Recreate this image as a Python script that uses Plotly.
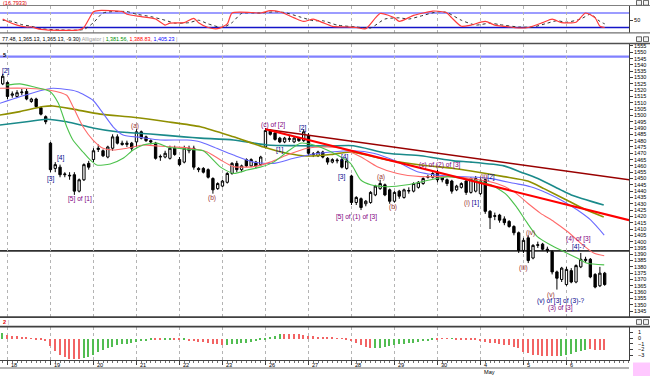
import plotly.graph_objects as go

W, H = 650, 376

# ---------------- data ----------------
day_labels = ["18", "19", "20", "21", "22", "23", "26", "27", "28", "29", "30", "4", "5", "6"]
day_start = [1, 10, 19, 28, 37, 46, 55, 64, 73, 82, 91, 100, 109, 118]
month_label = "May"
month_day = 100

opens = [1525, 1526, 1516, 1515, 1518, 1519, 1511, 1513, 1506, 1499,
         1478, 1458, 1459, 1453, 1452, 1453, 1440, 1449, 1462, 1465,
         1473, 1472, 1467, 1474, 1483, 1478, 1477, 1478, 1479, 1487,
         1483, 1480, 1478, 1467, 1467, 1466, 1474, 1465, 1463, 1472,
         1474, 1458, 1458, 1457, 1450, 1442, 1444, 1447, 1454, 1462,
         1457, 1465, 1460, 1463, 1461, 1475, 1488, 1486, 1482, 1479,
         1481, 1479, 1482, 1480, 1484, 1469, 1468, 1471, 1466, 1463,
         1464, 1465, 1458, 1452, 1431, 1434, 1430, 1431, 1437, 1442,
         1445, 1441, 1432, 1440, 1435, 1440, 1440, 1443, 1446, 1451,
         1451, 1455, 1451, 1449, 1448, 1441, 1443, 1448, 1439, 1440,
         1438, 1449, 1424, 1420, 1421, 1418, 1416, 1412, 1407, 1393,
         1403, 1387, 1397, 1398, 1394, 1392, 1376, 1370, 1366, 1377,
         1368, 1380, 1385, 1386, 1374, 1365, 1375]
highs = [1533, 1527, 1519, 1520, 1521, 1521, 1514, 1514, 1507, 1500,
         1479, 1463, 1461, 1455, 1455, 1455, 1450, 1462, 1464, 1474,
         1477, 1473, 1476, 1485, 1485, 1480, 1480, 1479, 1489, 1488,
         1484, 1481, 1479, 1469, 1472, 1476, 1476, 1467, 1476, 1476,
         1476, 1459, 1459, 1458, 1451, 1447, 1449, 1455, 1463, 1464,
         1461, 1466, 1466, 1464, 1468, 1490, 1489, 1487, 1483, 1483,
         1484, 1483, 1483, 1489, 1486, 1471, 1472, 1472, 1467, 1466,
         1466, 1466, 1466, 1453, 1436, 1435, 1433, 1440, 1445, 1449,
         1446, 1442, 1440, 1441, 1442, 1443, 1447, 1448, 1451, 1453,
         1455, 1457, 1452, 1450, 1449, 1445, 1447, 1449, 1451, 1452,
         1450, 1450, 1425, 1423, 1422, 1420, 1417, 1413, 1408, 1403,
         1405, 1398, 1400, 1399, 1396, 1393, 1377, 1380, 1380, 1379,
         1382, 1391, 1388, 1387, 1375, 1380, 1376]
lows = [1524, 1513, 1514, 1514, 1516, 1512, 1510, 1506, 1500, 1493,
        1455, 1455, 1451, 1451, 1449, 1437, 1439, 1448, 1457, 1463,
        1471, 1467, 1466, 1472, 1477, 1476, 1475, 1472, 1475, 1481,
        1479, 1477, 1465, 1464, 1466, 1465, 1468, 1460, 1462, 1470,
        1457, 1455, 1454, 1450, 1438, 1441, 1443, 1446, 1453, 1455,
        1455, 1459, 1459, 1458, 1460, 1474, 1484, 1480, 1478, 1478,
        1479, 1478, 1479, 1479, 1468, 1467, 1467, 1466, 1461, 1462,
        1462, 1458, 1457, 1429, 1429, 1425, 1428, 1430, 1436, 1441,
        1436, 1430, 1431, 1434, 1434, 1438, 1439, 1442, 1445, 1450,
        1450, 1447, 1447, 1444, 1438, 1440, 1442, 1437, 1438, 1439,
        1437, 1422, 1410, 1417, 1415, 1413, 1411, 1405, 1391, 1391,
        1383, 1386, 1395, 1393, 1391, 1374, 1362, 1368, 1365, 1367,
        1367, 1379, 1383, 1371, 1363, 1364, 1365]
closes = [1531, 1515, 1517, 1518, 1518.5, 1513, 1513, 1507, 1501, 1495,
          1457, 1461, 1453, 1453.5, 1452.5, 1440, 1449, 1461, 1459, 1472,
          1474, 1468, 1475, 1483, 1478, 1477, 1478, 1474, 1487, 1482,
          1480, 1479, 1466, 1467.5, 1470, 1474, 1469, 1461, 1474, 1474,
          1459, 1457, 1455, 1451, 1441, 1446, 1448, 1454, 1462, 1457,
          1460, 1460, 1465, 1460, 1467, 1488, 1485, 1481, 1479, 1482,
          1481.5, 1482, 1480, 1487, 1470, 1469.5, 1471, 1467, 1463, 1465,
          1464.5, 1459, 1464, 1431, 1435, 1427, 1432, 1439, 1444, 1446,
          1437, 1432, 1439, 1436, 1441, 1440.5, 1446, 1447, 1450, 1451.5,
          1454, 1449, 1449, 1446, 1440, 1444, 1446, 1439, 1450, 1450,
          1448, 1424, 1419, 1420.5, 1417, 1415, 1412, 1407, 1393, 1401,
          1385, 1397, 1397.5, 1394, 1393, 1376, 1371, 1379, 1378, 1368,
          1381, 1386, 1386, 1372, 1364, 1375, 1366]
bar_idx = list(range(len(closes)))

# Alligator + long moving averages (read at sampled bar positions)
green_idx = [0.8, 3.6, 6.4, 9.9, 11.6, 13.4, 14.7, 16.8, 18.3, 19.7, 22.5, 25.2, 27.3, 29.4, 32.3, 34.4,
             36.5, 39.3, 42, 45.6, 48.3, 51.2, 53.9, 56.7, 59.5, 62.3, 65.1, 67.9, 72.8, 74.9, 77, 80.5,
             84.7, 89.6, 93.1, 97.3, 102.2, 105.2, 107.5, 109.6, 111.9, 114.7, 117.5, 120.3, 122.4, 125.9]
green_val = [1524, 1525, 1522.7, 1519, 1510, 1491, 1480.5, 1471, 1464.7, 1460.7, 1461.5, 1466, 1472.6, 1476.6,
             1478, 1475, 1474, 1473, 1472, 1459, 1454, 1456.7, 1459, 1463, 1471, 1478, 1476.6, 1472.6, 1462,
             1449, 1445, 1443.5, 1445, 1449, 1451.5, 1449.4, 1445, 1438, 1427.7, 1415.8, 1404, 1397.3, 1392,
             1386.8, 1382.8, 1381.56]
red_idx = [-0.6, 5, 9.9, 13.4, 14.7, 16.8, 18.9, 21, 23.1, 26, 29.4, 32.3, 35.7, 39.3, 42.8, 45.6, 48.3,
           52.5, 56, 59.5, 63.7, 67.9, 70.7, 74.9, 78.4, 82.6, 87.5, 93.1, 98, 103.4, 107, 109.9, 112.6,
           115.4, 118.2, 121, 123.8, 125.9]
red_val = [1521.5, 1521.5, 1520, 1516, 1507, 1491, 1480.5, 1474, 1472.6, 1474, 1476.6, 1475.8, 1475, 1474,
           1471, 1464.7, 1459.4, 1459.4, 1463, 1468.6, 1474, 1475, 1474, 1467.3, 1459.4, 1454, 1451.5, 1451.5,
           1450, 1446, 1439.6, 1430.4, 1422.4, 1415.8, 1408, 1398.7, 1390.7, 1388.83]
blue_idx = [-0.6, 3.6, 7.8, 10.5, 15.5, 18.9, 21, 23.1, 25.2, 28.8, 33, 38.6, 41.4, 44.1, 48.3, 52.5, 56.7,
            60.9, 65.1, 68.6, 73.4, 77.6, 82.6, 86.8, 93.1, 99.4, 102.8, 107, 110.5, 114, 117.5, 120.3,
            123.1, 125.9]
blue_val = [1509.6, 1514.8, 1519.6, 1521.5, 1519, 1512, 1501.7, 1491, 1484.5, 1482.6, 1480.5, 1480.5, 1479,
            1475, 1468.6, 1463, 1462, 1466, 1469.4, 1471, 1472, 1470, 1463.3, 1455.4, 1452, 1451, 1449.5,
            1446.2, 1443.5, 1438.3, 1431.6, 1425, 1417, 1405.23]
olive_idx = [-0.6, 3.6, 8.5, 10.5, 14.7, 20.4, 27.3, 34.4, 41.4, 48.3, 54.6, 59.5, 63.7, 68.6, 72.8, 80.5,
             87.5, 94.4, 98, 104.9, 109.9, 113.3, 117.5, 121.6, 125.8]
olive_val = [1500.3, 1503, 1507, 1507.5, 1505, 1501, 1498.5, 1495, 1491, 1483, 1475, 1470, 1467.8, 1469,
             1471, 1464.7, 1460.7, 1458, 1456, 1451.5, 1448, 1442, 1434, 1426, 1419.5]
teal_idx = [-0.6, 5, 9.2, 13.4, 18.9, 23.9, 30.9, 37.9, 41.4, 48.3, 55.3, 62.3, 68.6, 73.4, 80.5, 87.5,
            94.4, 98, 104.9, 108.5, 112, 116.8, 119, 125.8]
teal_val = [1492.4, 1495, 1497, 1495, 1490, 1487, 1485.3, 1483, 1482, 1480.5, 1476.6, 1476, 1475.8, 1476,
            1470, 1468, 1464, 1463, 1460, 1455, 1450, 1441, 1437, 1429]

# trend lines (anchor bar, price)
trend_dark_idx = [55, 131.1]
trend_dark_val = [1489, 1449]
trend_red_idx = [55, 131.1]
trend_red_val = [1489, 1417]
level_blue = 1546.5
level_black = 1392.6

# stochastic
stoch_k_idx = [0, 1, 3, 5, 6, 8, 12, 16, 17, 19, 20, 25, 26, 29, 32, 34, 35, 38, 40, 41, 43, 45, 47, 48,
               52, 54, 56, 58, 61, 63, 65, 67, 69, 72, 74, 76, 79, 82, 83, 86, 88, 90, 92, 93, 94, 96, 98,
               101, 103, 105, 108, 110, 113, 115, 117, 120, 122, 124, 125, 126]
stoch_k = [55, 45, 30, 22, 22, 12, 8, 10, 20, 85, 90, 86, 75, 65, 55, 30, 38, 40, 58, 40, 20, 15, 35, 80,
           82, 80, 90, 85, 60, 45, 55, 40, 25, 22, 20, 15, 78, 60, 45, 70, 80, 88, 85, 80, 60, 25, 30,
           45, 30, 25, 18, 20, 40, 55, 40, 42, 80, 60, 25, 20]
stoch_d_idx = [0, 2, 4, 6, 8, 12, 17, 19, 21, 26, 28, 31, 34, 36, 39, 41, 43, 46, 48, 50, 54, 57, 59, 62,
               65, 67, 70, 74, 77, 80, 83, 85, 88, 91, 93, 96, 99, 102, 104, 108, 111, 114, 116, 118, 121,
               123, 125, 126]
stoch_d = [50, 45, 32, 25, 15, 10, 12, 40, 80, 86, 75, 65, 50, 38, 40, 50, 35, 20, 40, 78, 80, 85, 82, 65,
           48, 48, 30, 22, 18, 55, 60, 55, 70, 85, 82, 50, 30, 38, 32, 22, 22, 38, 48, 42, 55, 75, 45, 35]
stoch_levels = [80, 20]

# histogram oscillator
hist_vals = [1.0, 0.55, 0.5, 0.4, 0.25, 0.1, -0.05, -0.1, -0.2, -0.4,
             -1.3, -2.2, -2.8, -3.2, -3.5, -3.6, -3.6, -3.4, -3.3, -2.9,
             -2.4, -2.0, -1.7, -1.4, -1.2, -1.0, -0.9, -0.75, -0.6, -0.45,
             -0.35, -0.3, -0.3, -0.3, -0.25, -0.2, -0.25, -0.3, -0.3, -0.35,
             -0.45, -0.55, -0.65, -0.8, -0.9, -1.0, -1.1, -1.1, -1.0, -0.9,
             -0.8, -0.7, -0.6, -0.5, -0.3, -0.1, 0.3, 0.5, 0.7, 0.8,
             0.8, 0.8, 0.7, 0.6, 0.5, 0.4, 0.3, 0.2, 0.1, 0.1,
             0.05, -0.05, -0.2, -0.5, -0.8, -1.2, -1.5, -1.7, -1.7, -1.6,
             -1.4, -1.3, -1.1, -1.0, -0.9, -0.8, -0.7, -0.6, -0.5, -0.4,
             -0.3, -0.1, -0.05, -0.05, -0.05, -0.1, -0.15, -0.2, -0.2, -0.3,
             -0.5, -0.6, -0.7, -0.8, -1.0, -1.1, -1.2, -1.4, -1.6, -2.3,
             -2.6, -2.8, -2.9, -3.0, -3.0, -3.1, -3.1, -3.0, -2.9, -2.7,
             -2.4, -2.2, -2.0, -1.9, -2.0, -2.0, -2.0]
hist_side = ("g"
             "rrrrrrrrrrrrrrrr"
             "ggggggggggggggg"
             "rr" "gg" "rr" "g"
             "rrrrrrrr"
             "gggggggggggg"
             "rrrrrrrrrrrrrrrrrrr"
             "ggggggggggggg"
             "rrr" "g"
             "rrrrrrrrrrrrrrrrrrrrrr"
             "gggggg"
             "rrrr")

# wave labels
PURPLE, NAVY, BROWN = "#800080", "#00008b", "#993333"
wave_text = ["[2]", "[3]", "[4]", "[5] of [1]", "(a)", "(b)", "(c) of [2]", "[2]", "[1]", "[4]", "[3]",
             "[5] of (1) of [3]", "(a)", "(b)", "(c) of (2) of [3]",
             "<span style='color:%s'>(i)</span> <span style='color:%s'>[1]</span>" % (BROWN, NAVY),
             "<span style='color:%s'>(ii)</span><span style='color:%s'>[2]</span>" % (BROWN, NAVY),
             "(iv)", "(iii)", "(v)", "(v) of [3] of (3)-?", "(3) of [3]", "(4) of [3]", "[4]-?"]
wave_idx = [0.6, 9.9, 12.2, 16.2, 27.7, 43.9, 56.5, 62.7, 57.9, 71.5, 71.0, 74.0, 79.1, 81.6, 91.5,
            98.2, 101.5, 110.5, 109.1, 114.7, 116.8, 116.8, 120.6, 120.6]
wave_price = [1535.2, 1449.6, 1466.3, 1433.8, 1492.0, 1434.6, 1492.4, 1490.0, 1472.6, 1467.3, 1451.4,
              1419.7, 1451.4, 1427.7, 1460.7, 1430.6, 1451.2, 1406.6, 1378.8, 1357.7, 1353.0, 1347.4,
              1401.8, 1396.0]
wave_color = [NAVY, NAVY, NAVY, PURPLE, BROWN, BROWN, PURPLE, NAVY, NAVY, NAVY, NAVY, PURPLE, BROWN,
              BROWN, PURPLE, BROWN, BROWN, BROWN, BROWN, BROWN, NAVY, PURPLE, PURPLE, NAVY]

# ---------------- layout helpers ----------------
FONT = "Liberation Sans"
XR = [-0.566, 131.09]
XD = [0, 629 / W]


def py(ypx):
    return 1 - ypx / H


fig = go.Figure()

# stochastic panel
fig.add_trace(go.Scatter(x=stoch_d_idx, y=stoch_d, mode="lines", xaxis="x", yaxis="y",
                         line=dict(color="#333333", width=1, dash="dot", shape="spline", smoothing=0.6),
                         hoverinfo="skip"))
fig.add_trace(go.Scatter(x=stoch_k_idx, y=stoch_k, mode="lines", xaxis="x", yaxis="y",
                         line=dict(color="#ff3b3b", width=1.2, shape="spline", smoothing=0.6),
                         hoverinfo="skip"))

# moving averages
for xs, ys, col, wdt in [(teal_idx, teal_val, "#1a8a8a", 1.6), (olive_idx, olive_val, "#8f8f00", 1.6),
                         (blue_idx, blue_val, "#6a6aff", 1.1), (red_idx, red_val, "#ff6a6a", 1.1),
                         (green_idx, green_val, "#4cc24c", 1.1)]:
    fig.add_trace(go.Scatter(x=xs, y=ys, mode="lines", xaxis="x2", yaxis="y2",
                             line=dict(color=col, width=wdt, shape="spline", smoothing=0.6),
                             hoverinfo="skip"))

# trend lines
fig.add_trace(go.Scatter(x=trend_dark_idx, y=trend_dark_val, mode="lines", xaxis="x2", yaxis="y2",
                         line=dict(color="#990000", width=1.5), hoverinfo="skip"))
fig.add_trace(go.Scatter(x=trend_red_idx, y=trend_red_val, mode="lines", xaxis="x2", yaxis="y2",
                         line=dict(color="#ff0000", width=2), hoverinfo="skip"))

# candles
fig.add_trace(go.Candlestick(x=bar_idx, open=opens, high=highs, low=lows, close=closes,
                             xaxis="x2", yaxis="y2", whiskerwidth=0,
                             increasing=dict(line=dict(color="#000000", width=1), fillcolor="#ffffff"),
                             decreasing=dict(line=dict(color="#000000", width=1), fillcolor="#000000"),
                             hoverinfo="skip"))

# histogram
hist_colors = ["#f26464" if s == "r" else "#52bd52" for s in hist_side]
fig.add_trace(go.Bar(x=bar_idx, y=hist_vals, xaxis="x3", yaxis="y3", width=0.3,
                     marker=dict(color=hist_colors, line=dict(width=0)), hoverinfo="skip"))

axis_font = dict(family=FONT, size=5.5, color="#000000")
common_x = dict(range=XR, domain=XD, tickmode="array", tickvals=day_start, showticklabels=False,
                showgrid=True, griddash="dot", gridcolor="#b4b4b4", gridwidth=1, zeroline=False,
                fixedrange=True)

fig.update_layout(
    width=W, height=H, margin=dict(l=0, r=0, t=0, b=0),
    paper_bgcolor="white", plot_bgcolor="white", showlegend=False, boxgap=0.3,
    bargap=0,
    xaxis=dict(**common_x, anchor="y", ticks=""),
    xaxis2=dict(**common_x, anchor="y2", ticks="", matches="x", rangeslider=dict(visible=False)),
    xaxis3=dict(**common_x, anchor="y3", matches="x", ticks="outside", ticklen=4, tickcolor="#404040",
                showline=True, linecolor="#404040", linewidth=1,
                minor=dict(dtick=1, tick0=0, ticks="outside", ticklen=2, tickcolor="#707070",
                           showgrid=False)),
    yaxis=dict(domain=[py(32.5), py(5.5)], range=[-0.7, 111], side="right", anchor="x",
               tickmode="array", tickvals=[50], ticks="outside", ticklen=3, tickcolor="#404040",
               tickfont=axis_font, showgrid=False, zeroline=False, showline=True, linecolor="#404040",
               fixedrange=True),
    yaxis2=dict(domain=[py(317), py(44)], range=[1340.27, 1556.58], side="right", anchor="x2",
                tickmode="linear", tick0=1345, dtick=5, tickformat="d", ticks="outside", ticklen=3,
                tickcolor="#404040", tickfont=axis_font, showgrid=False, zeroline=False, showline=True,
                linecolor="#404040", fixedrange=True),
    yaxis3=dict(domain=[py(360), py(326.5)], range=[-3.826, 2.0], side="right", anchor="x3",
                tickmode="array", tickvals=[1, 0, -1, -2, -3], ticks="outside", ticklen=3,
                tickcolor="#404040", tickfont=axis_font, ticklabelstandoff=4, showgrid=False,
                zeroline=False, showline=True, linecolor="#404040", fixedrange=True),
)

shapes = []
# stochastic levels
for lv, col in zip(stoch_levels, ["#7b7bff", "#1414c8"]):
    shapes.append(dict(type="line", xref="x domain", yref="y", x0=0, x1=1, y0=lv, y1=lv,
                       line=dict(color=col, width=1.5), layer="below"))
# price levels
shapes.append(dict(type="line", xref="x2 domain", yref="y2", x0=0, x1=1, y0=level_blue, y1=level_blue,
                   line=dict(color="#8080ff", width=2.2), layer="below"))
shapes.append(dict(type="line", xref="x2 domain", yref="y2", x0=0, x1=1, y0=level_black, y1=level_black,
                   line=dict(color="#303030", width=1.8), layer="below"))
# panel separators
for ypx, col, wdt in [(5.5, "#808080", 1), (32.8, "#707070", 1.2), (43.6, "#505050", 1.5),
                      (317.2, "#404040", 1.8), (326.6, "#404040", 1.6)]:
    shapes.append(dict(type="line", xref="paper", yref="paper", x0=0, x1=1, y0=py(ypx), y1=py(ypx),
                       line=dict(color=col, width=wdt)))
# date strip band and corner box
shapes.append(dict(type="rect", xref="paper", yref="paper", x0=0, x1=629 / W, y0=py(369), y1=py(367),
                   fillcolor="#b4b4b4", line=dict(width=0)))
shapes.append(dict(type="rect", xref="paper", yref="paper", x0=633 / W, x1=1, y0=py(376), y1=py(362.5),
                   fillcolor="#ffc8ff", line=dict(width=0)))
# window icons
for yc in [2.8, 39.2, 322.0]:
    for x0 in [636.5, 643.5]:
        shapes.append(dict(type="rect", xref="paper", yref="paper", x0=x0 / W, x1=(x0 + 5) / W,
                           y0=py(yc + 2.4), y1=py(yc - 2.4), fillcolor="#f4f4f4",
                           line=dict(color="#404040", width=0.8)))
fig.update_layout(shapes=shapes)

ann = []
small = dict(family=FONT, size=5.6, color="#000000")
# headers
ann.append(dict(x=1 / W, y=py(2.8), xref="paper", yref="paper", xanchor="left", yanchor="middle",
                text="(16.7933)", showarrow=False, font=dict(family=FONT, size=5.6, color="#e00000")))
header = ("77.48, 1,365.13, 1,365.13, -9.30) <span style='color:#9a9a9a'>Alligator</span> "
          "<span style='color:#9a9a9a'>|</span> <span style='color:#008f00'>1,381.56,</span> "
          "<span style='color:#ff0000'>1,388.83,</span> <span style='color:#0000ff'>1,405.23</span> "
          "<span style='color:#9a9a9a'>|</span>")
ann.append(dict(x=0, y=py(38.6), xref="paper", yref="paper", xanchor="left", yanchor="middle",
                text=header, showarrow=False, font=dict(family=FONT, size=5.4, color="#000000")))
ann.append(dict(x=1 / W, y=py(55), xref="paper", yref="paper", xanchor="left", yanchor="middle",
                text="<b>5</b>", showarrow=False, font=small))
ann.append(dict(x=0.5 / W, y=py(321.8), xref="paper", yref="paper", xanchor="left", yanchor="middle",
                text="<span style='color:#e00000'><b>2</b></span> <span style='color:#9a9a9a'>|</span>",
                showarrow=False, font=small))
# date labels
for d, lab in zip(day_start, day_labels):
    ann.append(dict(x=d + 0.3, y=py(364.8), xref="x3", yref="paper", xanchor="left", yanchor="middle",
                    text=lab, showarrow=False, font=small))
ann.append(dict(x=month_day + 0.3, y=py(372.3), xref="x3", yref="paper", xanchor="left",
                yanchor="middle", text=month_label, showarrow=False, font=small))
# wave labels
for t, xi, pr, col in zip(wave_text, wave_idx, wave_price, wave_color):
    ann.append(dict(x=xi, y=pr, xref="x2", yref="y2", xanchor="center", yanchor="middle", text=t,
                    showarrow=False, font=dict(family=FONT, size=6.6, color=col)))
fig.update_layout(annotations=ann)

fig.write_html("out.html", config={"displayModeBar": False},
               post_script="document.body.style.margin='0';document.body.style.overflow='hidden';")
